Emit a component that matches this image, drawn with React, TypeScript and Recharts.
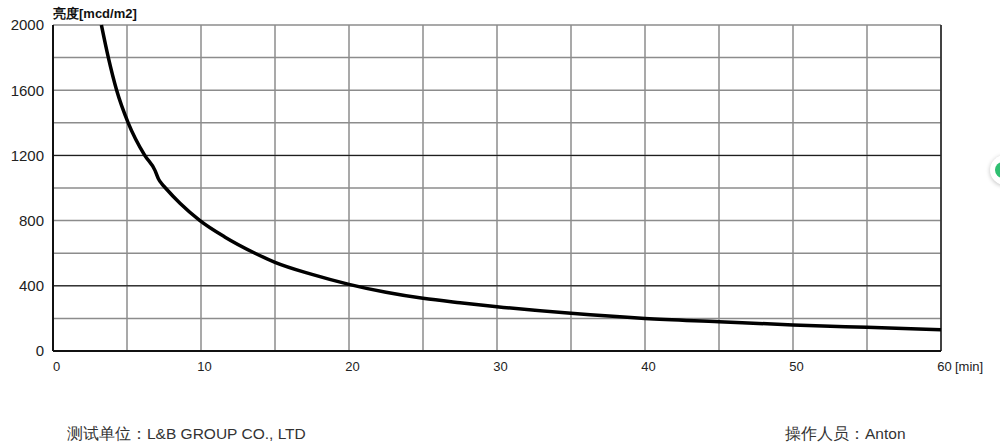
import {
  LineChart,
  Line,
  XAxis,
  YAxis,
  CartesianGrid,
  ReferenceLine,
} from "recharts";

// decay curve, read off the reference (minutes, mcd/m2)
const minutes = [
  3.27, 3.74, 4.3, 5.08, 6.2, 6.89, 7.12, 7.35, 7.6, 8.58, 9.93, 11.6,
  13.65, 15, 17.5, 20, 22.5, 25, 27.5, 30, 35, 40, 45, 50, 55, 60,
];
const luminance = [
  2000, 1800, 1600, 1400, 1200, 1108, 1057, 1026, 1000, 906, 800, 700,
  600, 544, 470, 409, 360, 323, 296, 272, 231, 200, 180, 160, 145, 131,
];

const xTicks = [0, 5, 10, 15, 20, 25, 30, 35, 40, 45, 50, 55, 60];
const yTicks = [0, 200, 400, 600, 800, 1000, 1200, 1400, 1600, 1800, 2000];
const darkLines = [400, 1200];

const data = minutes.map((t, i) => ({ t, v: luminance[i] }));

const FONT = "'Liberation Sans', Arial, sans-serif";

const XTick = (props: any) => {
  const { x, y, payload } = props;
  if (payload.value % 10 !== 0) return <g />;
  return (
    <text
      x={x + 3.5}
      y={y + 20}
      textAnchor="middle"
      fontSize={13}
      fontFamily={FONT}
      fill="#222"
    >
      {payload.value}
      {payload.value === 60 && (
        <tspan x={x + 14} textAnchor="start">
          [min]
        </tspan>
      )}
    </text>
  );
};

const YTick = (props: any) => {
  const { x, y, payload } = props;
  if (payload.value % 400 !== 0) return <g />;
  return (
    <text
      x={x - 9}
      y={y}
      dy="0.36em"
      textAnchor="end"
      fontSize={15}
      fontFamily={FONT}
      fill="#222"
    >
      {payload.value}
    </text>
  );
};

export default function App() {
  return (
    <div
      style={{
        position: "relative",
        width: 1000,
        height: 447,
        background: "#fff",
        overflow: "hidden",
        fontFamily: FONT,
      }}
    >
      <style>{"body{margin:0}"}</style>
      <LineChart
        width={1000}
        height={447}
        data={data}
        margin={{ top: 25, right: 59, bottom: 66, left: 0 }}
      >
        <CartesianGrid stroke="#8c8c8c" strokeWidth={1.5} />
        {darkLines.map((v) => (
          <ReferenceLine key={v} y={v} stroke="#111" strokeWidth={1} />
        ))}
        <ReferenceLine x={60} stroke="#222" strokeWidth={1.5} />
        <XAxis
          dataKey="t"
          type="number"
          domain={[0, 60]}
          ticks={xTicks}
          interval={0}
          height={30}
          tickSize={0}
          tickMargin={0}
          tick={<XTick />}
          axisLine={{ stroke: "#111", strokeWidth: 2 }}
        />
        <YAxis
          type="number"
          domain={[0, 2000]}
          ticks={yTicks}
          interval={0}
          width={53}
          tickSize={0}
          tickMargin={0}
          tick={<YTick />}
          axisLine={{ stroke: "#111", strokeWidth: 2 }}
        />
        <Line
          dataKey="v"
          type="monotone"
          stroke="#000"
          strokeWidth={3.5}
          dot={false}
          isAnimationActive={false}
        />
      </LineChart>

      <div
        style={{
          position: "absolute",
          left: 53,
          top: 5,
          fontSize: 13,
          fontWeight: "bold",
          color: "#111",
        }}
      >
        亮度[mcd/m2]
      </div>
      <div
        style={{
          position: "absolute",
          left: 67,
          top: 424,
          fontSize: 15.5,
          color: "#333",
        }}
      >
        测试单位：L&B GROUP CO., LTD
      </div>
      <div
        style={{
          position: "absolute",
          left: 785,
          top: 424,
          fontSize: 15.5,
          color: "#333",
        }}
      >
        操作人员：Anton
      </div>
      {/* stray floating button at the right edge */}
      <div
        style={{
          position: "absolute",
          left: 990,
          top: 155,
          width: 30,
          height: 30,
          borderRadius: 15,
          background: "#fff",
          boxShadow: "0 1px 4px rgba(0,0,0,0.25)",
        }}
      >
        <div
          style={{
            position: "absolute",
            left: 5,
            top: 7,
            width: 16,
            height: 16,
            borderRadius: 8,
            background: "#2fbf71",
          }}
        />
      </div>
    </div>
  );
}
